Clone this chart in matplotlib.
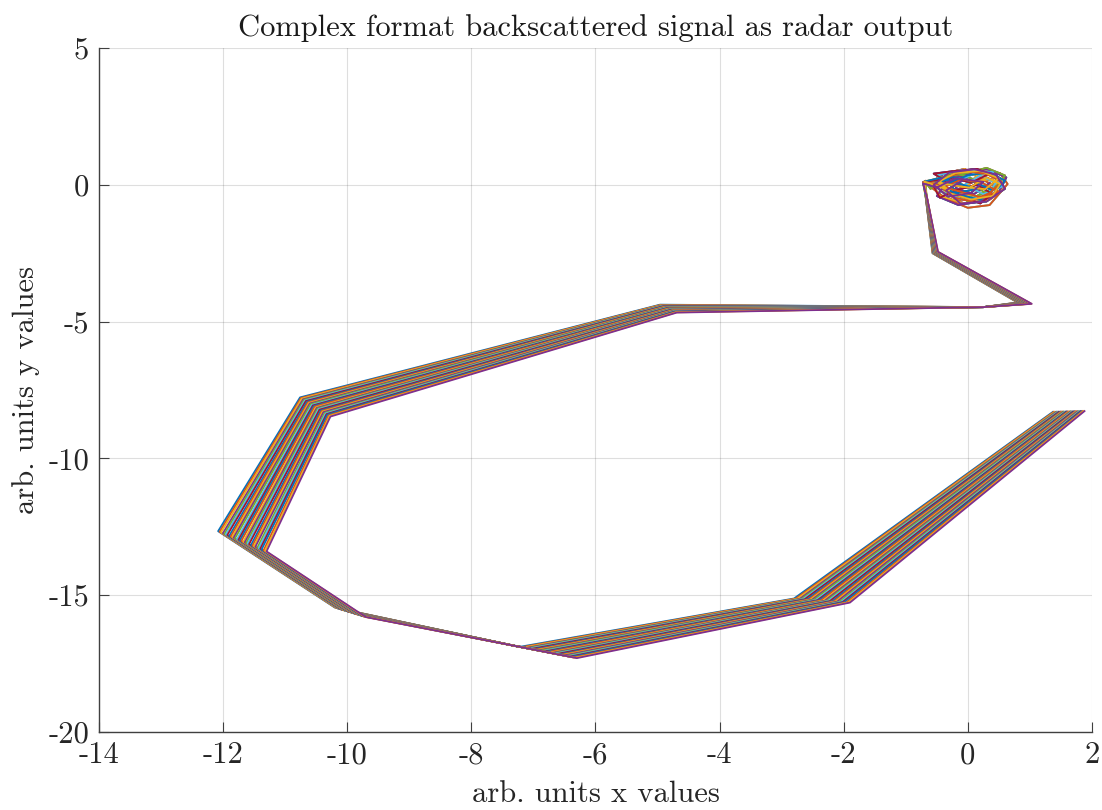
import matplotlib
matplotlib.use("Agg")
import matplotlib.pyplot as plt

plt.rcParams["font.family"] = "cmr10"
plt.rcParams["axes.unicode_minus"] = False
plt.rcParams["mathtext.fontset"] = "cm"

# Cores padrao do MATLAB
cores = ["#0072BD", "#D95319", "#EDB120", "#7E2F8E", "#77AC30", "#4DBEEE", "#A2142F"]

# Vertices do caminho: traco externo e traco interno
ext_x = [-0.68, -0.57, 0.80, 0.25, -4.96, -10.76, -12.08, -10.20, -7.26, -7.20, -2.80, 1.37]
ext_y = [-0.44, -2.50, -4.30, -4.47, -4.38, -7.77, -12.66, -15.45, -16.87, -16.88, -15.12, -8.30]
int_x = [-0.66, -0.48, 1.03, 0.25, -4.69, -10.27, -11.30, -9.70, -7.26, -6.30, -1.90, 1.88]
int_y = [-0.44, -2.45, -4.35, -4.47, -4.67, -8.47, -13.40, -15.80, -16.87, -17.30, -15.27, -8.27]

# Posicao de cada traco dentro da faixa (0 = externo, 1 = interno)
pos_tracos = [0.00, 0.03, 0.06, 0.10, 0.13, 0.16, 0.19, 0.23, 0.26, 0.29, 0.32,
              0.35, 0.39, 0.42, 0.45, 0.48, 0.52, 0.55, 0.58, 0.61, 0.64, 0.68,
              0.71, 0.74, 0.77, 0.81, 0.84, 0.87, 0.90, 0.94, 0.97, 1.00]

# Nuvem de ruido perto da origem (alguns tracos)
nuvem_x = [
    [0.05, 0.30, 0.52, 0.40, 0.05, -0.30, -0.45, -0.20, 0.20, 0.50, 0.28, -0.10, -0.48, -0.30, -0.70],
    [-0.10, -0.35, -0.12, 0.30, 0.60, 0.45, 0.10, -0.30, -0.55, -0.32, 0.05, 0.25, -0.20, -0.50, -0.72],
    [0.20, 0.45, 0.25, -0.15, -0.40, -0.25, 0.15, 0.52, 0.64, 0.35, 0.00, -0.35, -0.58, -0.45, -0.70],
    [0.00, 0.15, -0.05, -0.40, -0.60, -0.45, -0.05, 0.35, 0.55, 0.40, 0.10, -0.15, 0.05, -0.30, -0.68],
    [0.35, 0.10, -0.20, -0.05, 0.30, 0.62, 0.50, 0.20, -0.15, -0.50, -0.35, 0.00, -0.40, -0.55, -0.72],
    [-0.20, 0.00, 0.25, 0.10, -0.25, -0.50, -0.30, 0.10, 0.45, 0.60, 0.30, -0.05, -0.45, -0.60, -0.69],
    [0.10, -0.15, -0.35, -0.10, 0.30, 0.45, 0.20, -0.05, 0.25, 0.55, 0.40, -0.10, -0.50, -0.35, -0.70],
    [-0.05, 0.20, 0.40, 0.15, -0.20, -0.45, -0.55, -0.25, 0.05, 0.35, 0.15, -0.20, -0.55, -0.40, -0.71],
    [0.45, 0.60, 0.35, 0.00, -0.30, -0.15, 0.20, 0.40, 0.10, -0.25, -0.50, -0.20, 0.15, -0.45, -0.70],
    [-0.30, -0.05, 0.30, 0.55, 0.35, 0.05, -0.25, -0.40, -0.10, 0.25, 0.50, 0.20, -0.20, -0.55, -0.72],
]
nuvem_y = [
    [-0.07, 0.27, 0.03, -0.40, -0.54, -0.30, 0.14, 0.43, 0.51, 0.24, -0.16, -0.07, 0.08, -0.20, 0.12],
    [0.14, -0.20, -0.68, -0.61, -0.14, 0.38, 0.57, 0.45, 0.00, -0.43, -0.30, 0.11, 0.24, -0.10, 0.05],
    [0.24, -0.07, -0.51, -0.57, -0.16, 0.30, 0.54, 0.43, 0.03, -0.74, -0.84, -0.51, -0.11, 0.25, 0.08],
    [0.00, 0.34, 0.58, 0.41, 0.07, -0.41, -0.68, -0.54, -0.20, 0.20, 0.14, -0.20, -0.41, -0.14, 0.15],
    [0.07, -0.34, -0.14, 0.34, 0.58, 0.27, -0.27, -0.61, -0.74, -0.41, 0.07, 0.27, 0.41, -0.05, 0.10],
    [-0.27, -0.61, -0.27, 0.20, 0.47, 0.14, -0.34, -0.47, -0.07, 0.34, 0.62, 0.41, 0.27, -0.15, 0.12],
    [0.41, 0.14, -0.27, -0.54, -0.41, 0.07, 0.34, 0.00, -0.34, -0.07, 0.47, 0.55, 0.34, -0.05, 0.10],
    [-0.47, -0.68, -0.34, 0.00, -0.20, -0.47, -0.07, 0.27, 0.07, 0.41, 0.58, 0.51, 0.41, 0.20, 0.10],
    [-0.20, 0.15, 0.45, 0.35, 0.05, -0.35, -0.55, -0.20, 0.10, 0.30, 0.00, -0.30, -0.15, 0.25, 0.12],
    [0.30, 0.50, 0.40, 0.10, -0.30, -0.60, -0.45, -0.10, 0.20, 0.05, -0.25, -0.45, -0.20, 0.05, 0.10],
]

fig = plt.figure(figsize=(11.02, 8.10), dpi=100)
ax = fig.add_axes([0.0898, 0.0963, 0.9011, 0.8444])

for k, t in enumerate(pos_tracos):
    px = [a + t * (b - a) for a, b in zip(ext_x, int_x)]
    py = [a + t * (b - a) for a, b in zip(ext_y, int_y)]
    n = k % len(nuvem_x)
    xs = nuvem_x[n] + px
    ys = nuvem_y[n] + py
    ax.plot(xs, ys, color=cores[k % 7], lw=1.3)

ax.set_xlim(-14, 2)
ax.set_ylim(-20, 5)
ax.set_xticks(range(-14, 3, 2))
ax.set_yticks(range(-20, 6, 5))
ax.grid(True, color="0.15", alpha=0.15, lw=0.8)
ax.set_axisbelow(True)
for s in ["top", "right"]:
    ax.spines[s].set_visible(False)
for s in ["left", "bottom"]:
    ax.spines[s].set_color("0.25")
    ax.spines[s].set_linewidth(1.0)
ax.tick_params(direction="in", length=7, width=0.8, colors="0.25",
               labelcolor="0.15", labelsize=22, pad=7)

ax.set_title("Complex format backscattered signal as radar output", fontsize=22, color="0.1", pad=9)
ax.set_xlabel("arb. units x values", fontsize=22, color="0.15", labelpad=8)
ax.set_ylabel("arb. units y values", fontsize=22, color="0.15", labelpad=6)

fig.savefig("out.png", dpi=100)
